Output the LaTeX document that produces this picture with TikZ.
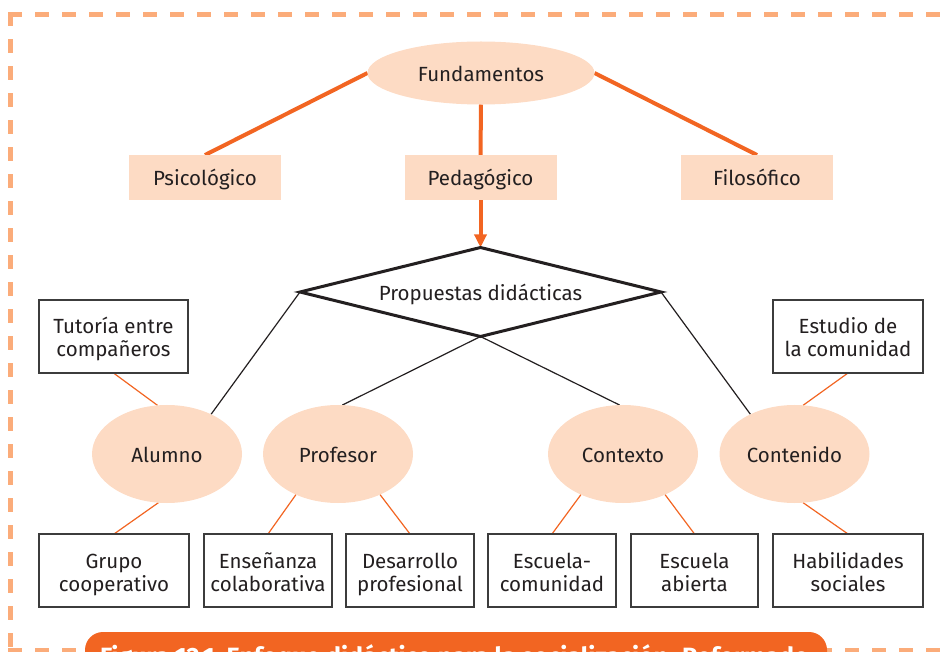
\documentclass[tikz,border=0pt]{standalone}
\usepackage{fontspec}
\setmainfont{Fira Sans}
\usetikzlibrary{shapes.geometric,arrows.meta,backgrounds}
\definecolor{orng}{RGB}{242,101,34}
\definecolor{peach}{RGB}{253,219,196}
\definecolor{dashc}{RGB}{251,172,122}
\definecolor{ink}{RGB}{35,31,32}
\definecolor{boxline}{RGB}{60,60,60}
\begin{document}
\begin{tikzpicture}[x=1pt,y=-1pt,
  every node/.style={font=\fontsize{20.5}{23}\selectfont, text=ink, inner sep=0pt, outer sep=0pt},
  one/.style={text height=17pt, text depth=0pt},
  topbox/.style={one, fill=peach, minimum width=152pt, minimum height=45pt},
  oval/.style={one, ellipse, fill=peach, minimum width=150pt, minimum height=98pt},
  wbox/.style={draw=boxline, line width=1.4pt, fill=white, align=center, minimum height=73pt, text height=41pt, text depth=0pt},
  orthick/.style={orng, line width=4pt},
  oconn/.style={orng, line width=1.2pt},
  bconn/.style={ink, line width=1.2pt},
  border/.style={dashc, line width=4.5pt, dash pattern=on 14pt off 13pt},
]
\useasboundingbox (0,0) rectangle (946,652);
\clip (0,0) rectangle (946,652);

% nodes
\node[oval, minimum width=227pt, minimum height=63pt] (fund) at (481,73) {Fundamentos};
\node[topbox] (psi) at (205,177.5) {Psicológico};
\node[topbox] (ped) at (480.5,177.5) {Pedagógico};
\node[topbox] (fil) at (757,177.5) {Filosófico};

\node[one, diamond, shape aspect=4.06, draw=ink, line width=3pt, minimum width=361pt, minimum height=89pt, fill=white] (dia) at (480.5,292) {Propuestas didácticas};

\node[oval] (alu) at (167,454) {Alumno};
\node[oval] (pro) at (338,454) {Profesor};
\node[oval] (ctx) at (623,454) {Contexto};
\node[oval] (con) at (794.5,454) {Contenido};

\node[wbox, minimum width=149pt] (tut) at (113.5,336.5) {Tutoría entre\\compañeros};
\node[wbox, minimum width=150pt] (est) at (848,336.5) {Estudio de\\la comunidad};

\node[wbox, minimum width=150pt] (grp) at (114,570.5) {Grupo\\cooperativo};
\node[wbox, minimum width=128pt] (ens) at (268,570.5) {Enseñanza\\colaborativa};
\node[wbox, minimum width=128pt] (des) at (410,570.5) {Desarrollo\\profesional};
\node[wbox, minimum width=128pt] (esc) at (552,570.5) {Escuela-\\comunidad};
\node[wbox, minimum width=127pt] (abi) at (694.5,570.5) {Escuela\\abierta};
\node[wbox, minimum width=150pt] (hab) at (848,570.5) {Habilidades\\sociales};

% caption
\node[fill=orng, rounded corners=18pt, minimum width=742pt, minimum height=70pt, anchor=north west] (cap) at (85,632) {};
\node[anchor=base west, text=white, font=\bfseries\fontsize{25}{28}\selectfont] (captxt) at (100,665) {Figura 12.1\ \ Enfoque didáctico para la socialización. Reformado};

\begin{scope}[on background layer]
  \draw[border] (8.25,14.5) -- (960,14.5);
  \draw[border] (10.5,12.25) -- (10.5,660);
  \draw[border] (8.25,650) -- (960,650);

  \draw[orthick] (fund.west) -- (psi.north);
  \draw[orthick] (fund.east) -- (fil.north);
  \draw[orthick] (fund.south) -- (ped.north);
  \draw[orthick, -{Triangle[length=13pt,width=12pt]}] (ped.south) -- (dia.north);

  \draw[bconn] (dia.west) -- (alu.42);
  \draw[bconn] (dia.east) -- (con.138);
  \draw[bconn] (dia.south) -- (pro.85);
  \draw[bconn] (dia.south) -- (ctx.94);

  \draw[oconn] (tut.south) -- (alu.101);
  \draw[oconn] (alu.260) -- (grp.north);
  \draw[oconn] (pro.224) -- (ens.north);
  \draw[oconn] (pro.316) -- (des.north);
  \draw[oconn] (ctx.224) -- (esc.north);
  \draw[oconn] (ctx.316) -- (abi.north);
  \draw[oconn] (est.south) -- (con.80);
  \draw[oconn] (con.280) -- (hab.north);
\end{scope}
\end{tikzpicture}
\end{document}
